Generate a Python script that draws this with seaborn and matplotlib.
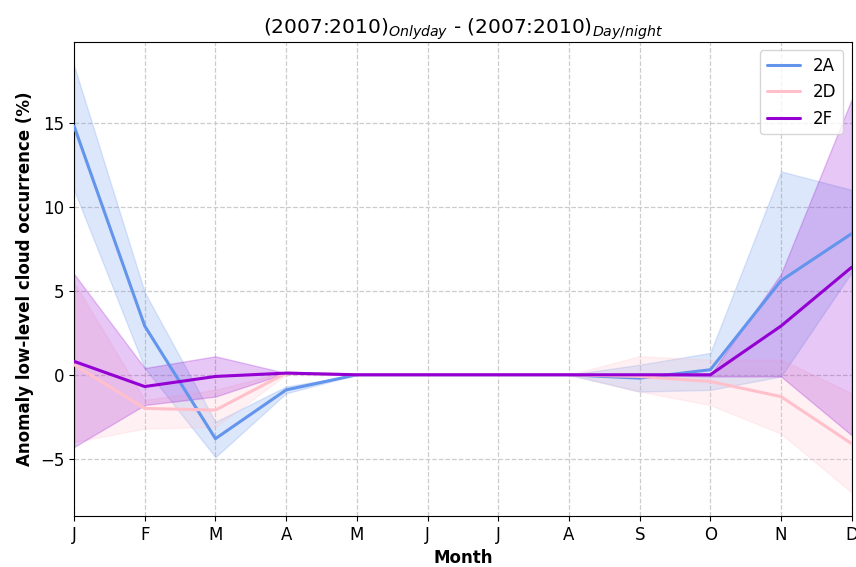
import matplotlib
matplotlib.use("Agg")
import matplotlib.pyplot as plt
import seaborn as sns
import pandas as pd
import numpy as np

months = ["J", "F", "M", "A", "M", "J", "J", "A", "S", "O", "N", "D"]
series = ["2A", "2D", "2F"]
colors = ["#6495ED", "#FFC0CB", "#9400D3"]

mean_2A = [14.8, 2.9, -3.8, -0.9, 0.0, 0.0, 0.0, 0.0, -0.2, 0.3, 5.6, 8.4]
upper_2A = [18.4, 4.9, -2.8, -0.7, 0.0, 0.0, 0.0, 0.0, 0.6, 1.3, 12.1, 11.0]
lower_2A = [11.0, 0.4, -4.9, -1.1, 0.0, 0.0, 0.0, 0.0, -1.0, -0.9, -0.1, 6.1]

mean_2D = [0.6, -2.0, -2.1, 0.1, 0.0, 0.0, 0.0, 0.0, -0.1, -0.4, -1.3, -4.1]
upper_2D = [5.5, -1.5, -0.9, 0.2, 0.0, 0.0, 0.0, 0.0, 1.1, 0.9, 0.9, -1.1]
lower_2D = [-4.0, -3.2, -3.1, 0.0, 0.0, 0.0, 0.0, 0.0, -1.0, -1.8, -3.5, -7.0]

mean_2F = [0.8, -0.7, -0.1, 0.1, 0.0, 0.0, 0.0, 0.0, 0.0, 0.0, 2.9, 6.4]
upper_2F = [6.0, 0.4, 1.1, 0.1, 0.0, 0.0, 0.0, 0.0, 0.0, 0.0, 6.0, 16.4]
lower_2F = [-4.3, -1.8, -1.3, 0.1, 0.0, 0.0, 0.0, 0.0, 0.0, -0.1, -0.1, -3.6]

means = [mean_2A, mean_2D, mean_2F]
uppers = [upper_2A, upper_2D, upper_2F]
lowers = [lower_2A, lower_2D, lower_2F]

x = np.arange(len(months))
df = pd.concat([pd.DataFrame({"month": x, "value": m, "series": s})
                for m, s in zip(means, series)], ignore_index=True)

sns.set_style("ticks")
plt.rcParams["font.family"] = ["DejaVu Sans"]
plt.rcParams["text.color"] = "black"
plt.rcParams["axes.labelcolor"] = "black"
plt.rcParams["xtick.color"] = "black"
plt.rcParams["ytick.color"] = "black"

fig, ax = plt.subplots(figsize=(8.56, 5.67), dpi=100)
fig.subplots_adjust(left=0.0865, right=0.995, top=0.926, bottom=0.09)

for s, c, lo, hi in zip(series, colors, lowers, uppers):
    ax.fill_between(x, lo, hi, color=c, alpha=0.22, zorder=1)

sns.lineplot(data=df, x="month", y="value", hue="series", palette=colors,
             linewidth=2.2, ax=ax, zorder=3)

ax.set_xlim(0, 11)
ax.set_ylim(-8.4, 19.8)
ax.set_xticks(x)
ax.set_xticklabels(months, fontsize=12)
ax.set_yticks([-5, 0, 5, 10, 15])
ax.tick_params(axis="y", labelsize=12)
ax.grid(True, linestyle="--", color="#cccccc", linewidth=0.9)
for sp in ax.spines.values():
    sp.set_visible(True)
    sp.set_color("black")

ax.set_xlabel("Month", fontsize=12, fontweight="bold")
ax.set_ylabel("Anomaly low-level cloud occurrence (%)", fontsize=12, fontweight="bold")
ax.set_title(r"(2007:2010)$_{\it{Onlyday}}$ - (2007:2010)$_{\it{Day/night}}$", fontsize=14.5)

ax.legend(loc="upper right", fontsize=12, frameon=True, title=None)

fig.savefig("out.png", dpi=100)
